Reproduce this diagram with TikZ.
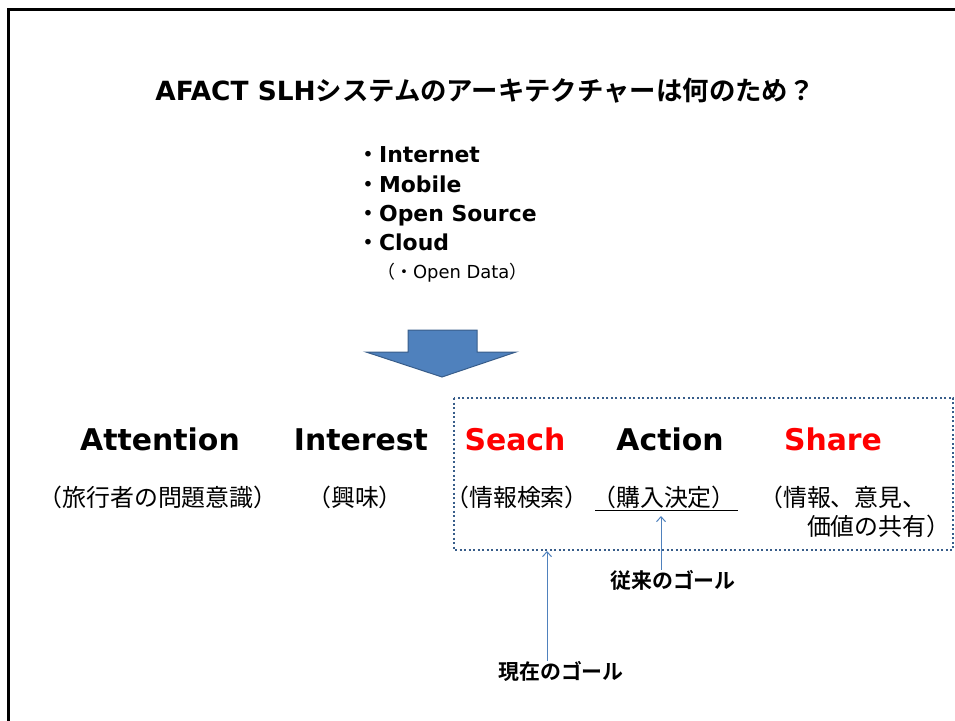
\documentclass[tikz,border=0pt]{standalone}
\usepackage{fontspec}
\setmainfont{DejaVu Sans}
\newfontfamily\jp{Noto Sans CJK JP}[BoldFont={Noto Sans CJK JP Bold}]
\usetikzlibrary{arrows.meta}
\definecolor{arrowblue}{HTML}{4F81BD}
\definecolor{edgeblue}{HTML}{385D8A}
\definecolor{stepred}{HTML}{FF0000}
\tikzset{
	bigword/.style={font=\fontsize{30}{36}\selectfont\bfseries, inner sep=0pt, anchor=base},
	subword/.style={font=\fontsize{24}{29}\selectfont\jp, inner sep=0pt},
	bulletline/.style={font=\fontsize{22}{26}\selectfont\bfseries, inner sep=0pt, anchor=base west},
	goallabel/.style={font=\fontsize{21}{25}\selectfont\jp\bfseries, inner sep=0pt},
	goalarrow/.style={draw=arrowblue, line width=1bp, -{Straight Barb[length=5bp,width=9bp]}},
	dotbox/.style={draw=edgeblue, line width=2.5bp, dash pattern=on 2bp off 2.5bp}
}

\begin{document}
\begin{tikzpicture}[x=1bp, y=-1bp]
		%%%%% START %%%%%
		\useasboundingbox (0,0) rectangle (955,721);
		
		\draw[line width=3bp] (8,721) -- (8,9.5) -- (955,9.5);
		
		\node[font=\fontsize{26.5}{31}\selectfont\bfseries, inner sep=0pt, anchor=base] (title) at (485,101) {AFACT SLH{\jp システムのアーキテクチャーは何のため？}};
		
		\node[bulletline] (internet) at (357,163) {{\jp ・}Internet};
		\node[bulletline] (mobile) at (357,192) {{\jp ・}Mobile};
		\node[bulletline] (opensource) at (357,221) {{\jp ・}Open Source};
		\node[bulletline] (cloud) at (357,250) {{\jp ・}Cloud};
		\node[font=\fontsize{18}{21}\selectfont, inner sep=0pt, anchor=base west] (opendata) at (377,278) {{\jp （・}Open Data{\jp ）}};
		
		\draw[fill=arrowblue, draw=edgeblue, line width=1bp] (408,330) -- (477,330) -- (477,352) -- (516,352) -- (442,377) -- (366,352) -- (408,352) -- cycle;
		
		\node[bigword] (attention) at (160,450) {Attention};
		\node[bigword] (interest) at (361,450) {Interest};
		\node[bigword, text=stepred] (seach) at (515,450) {Seach};
		\node[bigword] (action) at (670,450) {Action};
		\node[bigword, text=stepred] (share) at (833,450) {Share};
		
		\node[subword] (attsub) at (158,497) {（旅行者の問題意識）};
		\node[subword] (intsub) at (355,497) {（興味）};
		\node[subword] (seasub) at (517,497) {（情報検索）};
		\node[subword] (actsub) at (664,497) {（購入決定）};
		\node[subword, align=left, anchor=west] (shasub) at (759,512) {（情報、意見、\\　　価値の共有）};
		\draw[line width=1bp] (595,510) -- (738,510);
		
		\draw[dotbox] (454,398) rectangle (953,550);
		
		\node[goallabel] (oldgoal) at (673,580) {従来のゴール};
		\node[goallabel] (nowgoal) at (561,671) {現在のゴール};
		\coordinate (oldtip) at (661,516);
		\coordinate (nowtip) at (547,551);
		\draw[goalarrow] (oldtip |- oldgoal.north) -- (oldtip);
		\draw[goalarrow] (nowtip |- nowgoal.north) -- (nowtip);
		
		%%%%% END %%%%%
	\end{tikzpicture}
\end{document}
